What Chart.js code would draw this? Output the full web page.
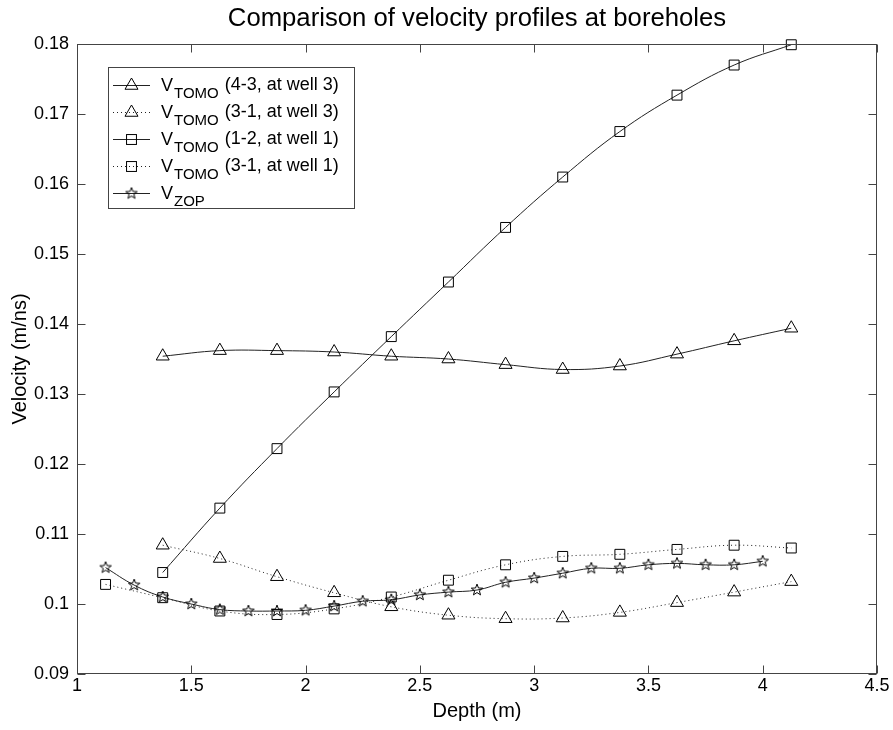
<!DOCTYPE html>
<html>
<head>
<meta charset="utf-8">
<script src="https://cdn.jsdelivr.net/npm/chart.js@4.4.1/dist/chart.umd.min.js"></script>
<style>
html, body { margin: 0; padding: 0; background: #fff; }
#wrap { width: 893px; height: 730px; }
</style>
</head>
<body>
<div id="wrap"><canvas id="velocityChart" width="893" height="730"></canvas></div>
<script>
// depths (m)
var depthTomo = [1.375, 1.625, 1.875, 2.125, 2.375, 2.625, 2.875, 3.125, 3.375, 3.625, 3.875, 4.125];
var depthTomo31w1 = [1.125, 1.375, 1.625, 1.875, 2.125, 2.375, 2.625, 2.875, 3.125, 3.375, 3.625, 3.875, 4.125];
var depthZop = [1.125, 1.25, 1.375, 1.5, 1.625, 1.75, 1.875, 2.0, 2.125, 2.25, 2.375, 2.5,
                2.625, 2.75, 2.875, 3.0, 3.125, 3.25, 3.375, 3.5, 3.625, 3.75, 3.875, 4.0];

// velocities (m/ns)
var tomo43w3 = [0.1354, 0.1362, 0.1362, 0.1360, 0.1354, 0.1350, 0.1342, 0.1335, 0.1340, 0.1357, 0.1376, 0.1394];
var tomo31w3 = [0.1084, 0.1065, 0.1039, 0.1016, 0.0996, 0.0984, 0.0979, 0.0980, 0.0988, 0.1002, 0.1017, 0.1032];
var tomo12w1 = [0.1045, 0.1137, 0.1222, 0.1303, 0.1382, 0.1460, 0.1538, 0.1610, 0.1675, 0.1727, 0.1770, 0.1799];
var tomo31w1 = [0.1028, 0.1009, 0.0990, 0.0985, 0.0993, 0.1010, 0.1034, 0.1056, 0.1068, 0.1071, 0.1078, 0.1084, 0.1080];
var zop = [0.1052, 0.1027, 0.1010, 0.1000, 0.0992, 0.0990, 0.0990, 0.0991, 0.0997, 0.1004, 0.1006, 0.1013,
           0.1017, 0.1020, 0.1031, 0.1037, 0.1044, 0.1051, 0.1051, 0.1056, 0.1058, 0.1056, 0.1056, 0.1061];

// tick labels
var xTicks = [1, 1.5, 2, 2.5, 3, 3.5, 4, 4.5];
var yTicks = [0.09, 0.1, 0.11, 0.12, 0.13, 0.14, 0.15, 0.16, 0.17, 0.18];

// legend text: main letter, subscript, rest
var legendLabels = [
  ['V', 'TOMO', ' (4-3, at well 3)'],
  ['V', 'TOMO', ' (3-1, at well 3)'],
  ['V', 'TOMO', ' (1-2, at well 1)'],
  ['V', 'TOMO', ' (3-1, at well 1)'],
  ['V', 'ZOP', '']
];

var FONT = '"Liberation Sans", Arial, Helvetica, sans-serif';
var LINE = '#222';

function pts(xs, ys) {
  return xs.map(function (x, i) { return { x: x, y: ys[i] }; });
}

// five pointed star marker
var star = document.createElement('canvas');
star.width = 14; star.height = 14;
(function () {
  var g = star.getContext('2d');
  g.strokeStyle = '#000';
  g.lineWidth = 1;
  g.beginPath();
  for (var i = 0; i < 10; i++) {
    var r = i % 2 === 0 ? 6 : 2.5;
    var a = -Math.PI / 2 + i * Math.PI / 5;
    var px = 7 + r * Math.cos(a), py = 7 + r * Math.sin(a);
    if (i === 0) g.moveTo(px, py); else g.lineTo(px, py);
  }
  g.closePath();
  g.stroke();
})();

function series(label, xs, ys, style, radius, dashed) {
  return {
    label: label,
    data: pts(xs, ys),
    borderColor: LINE,
    borderWidth: 1,
    borderDash: dashed ? [1, 3] : [],
    tension: 0.4,
    fill: false,
    clip: false,
    pointStyle: style,
    pointRadius: radius,
    pointBorderColor: '#000',
    pointBackgroundColor: 'rgba(0,0,0,0)',
    pointBorderWidth: 1
  };
}

var datasets = [
  series('VTOMO (4-3, at well 3)', depthTomo, tomo43w3, 'triangle', 7.5, false),
  series('VTOMO (3-1, at well 3)', depthTomo, tomo31w3, 'triangle', 7.5, true),
  series('VTOMO (1-2, at well 1)', depthTomo, tomo12w1, 'rect', 7, false),
  series('VTOMO (3-1, at well 1)', depthTomo31w1, tomo31w1, 'rect', 7, true),
  series('VZOP', depthZop, zop, star, 6, false)
];

function drawMarker(ctx, style, r, x, y) {
  ctx.save();
  ctx.strokeStyle = '#000';
  ctx.lineWidth = 1;
  ctx.setLineDash([]);
  if (style === 'triangle') {
    ctx.beginPath();
    ctx.moveTo(x, y - r);
    ctx.lineTo(x + r * 0.866, y + r * 0.5);
    ctx.lineTo(x - r * 0.866, y + r * 0.5);
    ctx.closePath();
    ctx.stroke();
  } else if (style === 'rect') {
    var s = r * Math.SQRT1_2;
    ctx.strokeRect(x - s, y - s, 2 * s, 2 * s);
  } else {
    ctx.drawImage(style, x - style.width / 2, y - style.height / 2);
  }
  ctx.restore();
}

// box round the axes with inward ticks, plus the legend
var framePlugin = {
  id: 'frame',
  afterDraw: function (chart) {
    var ctx = chart.ctx, a = chart.chartArea;
    var L = Math.round(a.left) + 0.5, R = Math.round(a.right) - 0.5;
    var T = Math.round(a.top) + 0.5, B = Math.round(a.bottom) - 0.5;
    var sx = chart.scales.x, sy = chart.scales.y, tl = 8;
    ctx.save();
    ctx.strokeStyle = '#444';
    ctx.lineWidth = 1;
    ctx.strokeRect(L, T, R - L, B - T);
    ctx.beginPath();
    xTicks.forEach(function (v) {
      var p = Math.round(sx.getPixelForValue(v)) + 0.5;
      ctx.moveTo(p, B); ctx.lineTo(p, B - tl);
      ctx.moveTo(p, T); ctx.lineTo(p, T + tl);
    });
    yTicks.forEach(function (v) {
      var p = Math.round(sy.getPixelForValue(v)) + 0.5;
      ctx.moveTo(L, p); ctx.lineTo(L + tl, p);
      ctx.moveTo(R, p); ctx.lineTo(R - tl, p);
    });
    ctx.stroke();

    // legend
    var bx = 108.5, by = 67.5, rowH = 27, firstRow = 85;
    var textX = 161;
    var bigFont = '18px ' + FONT, subFont = '15px ' + FONT;
    var maxW = 0;
    legendLabels.forEach(function (lab) {
      ctx.font = bigFont;
      var w = ctx.measureText(lab[0]).width + ctx.measureText(lab[2]).width;
      ctx.font = subFont;
      w += ctx.measureText(lab[1]).width;
      maxW = Math.max(maxW, w);
    });
    var bw = Math.round(textX + maxW + 18 - bx);
    var bh = 141;
    ctx.fillStyle = '#fff';
    ctx.fillRect(bx, by, bw, bh);
    ctx.strokeRect(bx, by, bw, bh);

    chart.data.datasets.forEach(function (ds, i) {
      var y = firstRow + i * rowH;
      ctx.save();
      ctx.strokeStyle = LINE;
      ctx.setLineDash(ds.borderDash);
      ctx.beginPath();
      ctx.moveTo(113, y + 0.5);
      ctx.lineTo(150, y + 0.5);
      ctx.stroke();
      ctx.restore();
      drawMarker(ctx, ds.pointStyle, ds.pointRadius, 131.5, y + 0.5);

      var lab = legendLabels[i];
      ctx.fillStyle = '#000';
      ctx.textBaseline = 'alphabetic';
      ctx.textAlign = 'left';
      ctx.font = bigFont;
      ctx.fillText(lab[0], textX, y + 6);
      var x = textX + ctx.measureText(lab[0]).width + 1;
      ctx.font = subFont;
      ctx.fillText(lab[1], x, y + 13);
      x += ctx.measureText(lab[1]).width + 1;
      ctx.font = bigFont;
      ctx.fillText(lab[2], x, y + 5);
    });
    ctx.restore();
  }
};

var context = document.getElementById('velocityChart').getContext('2d');
var chart = new Chart(context, {
  type: 'line',
  data: { datasets: datasets },
  plugins: [framePlugin],
  options: {
    responsive: false,
    animation: false,
    devicePixelRatio: 1,
    layout: { padding: { top: 0, right: 16, bottom: 0, left: 0 } },
    plugins: {
      legend: { display: false },
      tooltip: { enabled: false },
      title: {
        display: true,
        fullSize: false,
        text: 'Comparison of velocity profiles at boreholes',
        color: '#000',
        font: { family: FONT, size: 25.7, weight: 'normal' },
        padding: { top: 3.6, bottom: 9.6 }
      }
    },
    scales: {
      x: {
        type: 'linear',
        min: 1, max: 4.5,
        afterBuildTicks: function (s) { s.ticks = xTicks.map(function (v) { return { value: v }; }); },
        afterFit: function (s) { s.height = 56; },
        grid: { display: false, drawTicks: false },
        border: { display: false },
        ticks: {
          autoSkip: false, maxRotation: 0, padding: 1,
          color: '#000', font: { family: FONT, size: 18 },
          callback: function (v) { return String(v); }
        },
        title: {
          display: true, text: 'Depth (m)', color: '#000',
          font: { family: FONT, size: 20 },
          padding: { top: 0, bottom: 7 }
        }
      },
      y: {
        type: 'linear',
        min: 0.09, max: 0.18,
        afterBuildTicks: function (s) { s.ticks = yTicks.map(function (v) { return { value: v }; }); },
        afterFit: function (s) { s.width = 77; },
        grid: { display: false, drawTicks: false },
        border: { display: false },
        ticks: {
          autoSkip: false, padding: 8,
          color: '#000', font: { family: FONT, size: 18 },
          callback: function (v) { return String(v); }
        },
        title: {
          display: true, text: 'Velocity (m/ns)', color: '#000',
          font: { family: FONT, size: 20 },
          padding: { top: 8, bottom: 0 }
        }
      }
    }
  }
});
</script>
</body>
</html>
